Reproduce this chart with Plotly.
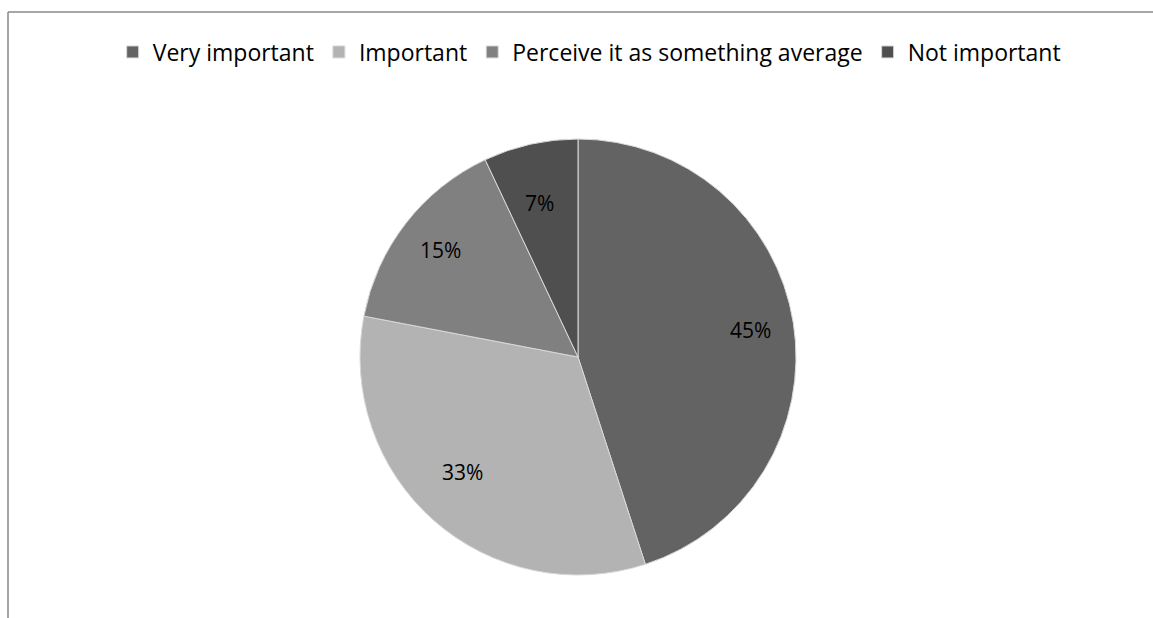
import math
import plotly.graph_objects as go

categories = ["Very important", "Important", "Perceive it as something average", "Not important"]
values = [45, 33, 15, 7]
colors = ["#636363", "#b3b3b3", "#808080", "#4f4f4f"]

W, H = 1153, 618
cx, cy, R = 578, 357, 218

dom_x = [(cx - R) / W, (cx + R) / W]
dom_y = [(H - (cy + R)) / H, (H - (cy - R)) / H]

fig = go.Figure(go.Pie(
    labels=categories, values=values, sort=False, direction="clockwise", rotation=0,
    marker=dict(colors=colors, line=dict(color="#d9d9d9", width=1)),
    textinfo="none", hoverinfo="label+percent",
    domain=dict(x=dom_x, y=dom_y),
))

# data labels at 0.8 radius on each slice's mid-angle
total = sum(values)
acc = 0
annotations = []
for v in values:
    mid = (acc + v / 2) / total * 2 * math.pi
    acc += v
    px = cx + 0.8 * R * math.sin(mid)
    py = cy - 0.8 * R * math.cos(mid)
    annotations.append(dict(
        x=px / W, y=1 - py / H, xref="paper", yref="paper",
        text=f"{round(v / total * 100)}%", showarrow=False,
        font=dict(family="Open Sans", size=21, color="#000000"),
    ))

fig.update_layout(
    width=W, height=H,
    margin=dict(l=0, r=0, t=0, b=0),
    paper_bgcolor="white", plot_bgcolor="white",
    font=dict(family="Open Sans", color="#000000"),
    showlegend=True,
    legend=dict(orientation="h", x=0.511, xanchor="center", y=1 - 52 / H, yanchor="middle",
                font=dict(size=23, family="Open Sans"), itemwidth=30),
    annotations=annotations,
    shapes=[
        dict(type="line", xref="paper", yref="paper", x0=8 / W, y0=0, x1=8 / W, y1=1 - 12 / H,
             line=dict(color="#898989", width=1.5)),
        dict(type="line", xref="paper", yref="paper", x0=8 / W, y0=1 - 12 / H, x1=1, y1=1 - 12 / H,
             line=dict(color="#898989", width=1.5)),
    ],
)

fig.write_html("out.html")
